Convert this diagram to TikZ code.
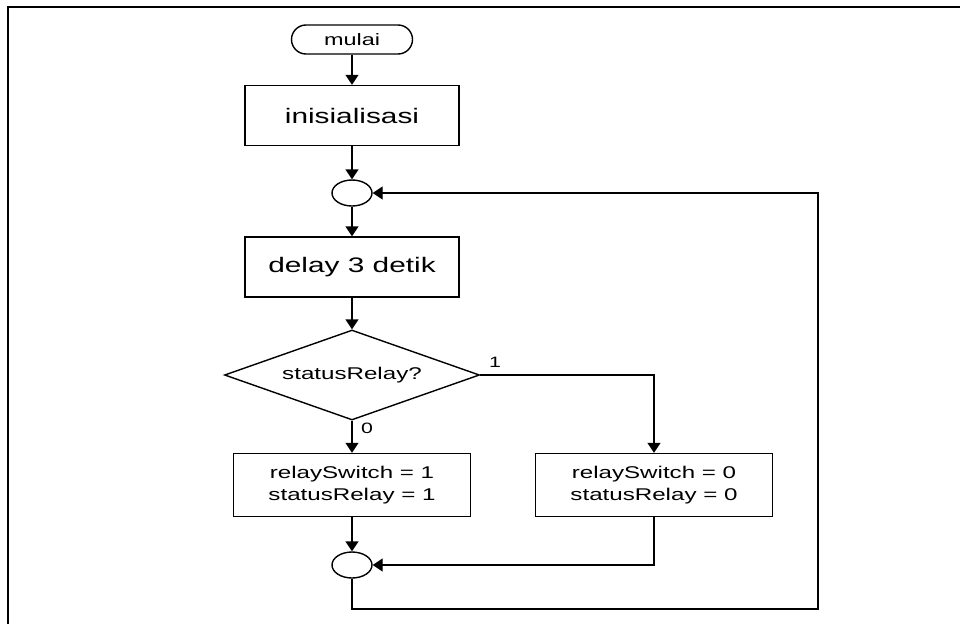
\documentclass[tikz,border=0pt]{standalone}
\usepackage{fontspec}
\setmainfont{Liberation Sans}[FakeStretch=1.42]
\usetikzlibrary{shapes.geometric, arrows.meta}

\begin{document}
\begin{tikzpicture}[x=1pt, y=-1pt, line width=1.4pt,
  term/.style={draw, rectangle, rounded corners=14.5pt, inner sep=0pt, minimum width=121pt, minimum height=29pt, font=\fontsize{16.5}{20}\selectfont},
  box/.style={draw, rectangle, inner sep=0pt, minimum width=214pt, minimum height=60pt, font=\fontsize{21}{25}\selectfont},
  setbox/.style={draw, rectangle, align=center, inner sep=0pt, minimum width=237pt, minimum height=63pt, font=\fontsize{17}{22}\selectfont},
  joint/.style={draw, ellipse, inner sep=0pt, minimum width=40pt, minimum height=26pt},
  cond/.style={draw, diamond, aspect=2.8, inner sep=0pt, minimum width=255pt, minimum height=90pt, font=\fontsize{17}{20}\selectfont},
  lbl/.style={inner sep=0pt, font=\fontsize{15}{18}\selectfont},
  flow/.style={-{Triangle[length=10pt,width=13pt]}}]
\useasboundingbox (0,0) rectangle (960,624);
\draw[line width=2pt] (960,7) -- (8,7) -- (8,624);

\node[term] (S) at (352,39.5) {mulai};
\node[box] (I) at (352,115.5) {inisialisasi};
\node[joint] (J1) at (352,193) {};
\node[box] (D) at (352,267) {delay 3 detik};
\node[cond] (C) at (352,375) {statusRelay?};
\node[setbox] (T) at (352,485) {relaySwitch = 1\\statusRelay = 1};
\node[setbox] (F) at (654,485) {relaySwitch = 0\\statusRelay = 0};
\node[joint] (J2) at (352,565) {};
\coordinate (B) at (818,609);
\node[lbl] (L1) at (495,362) {1};
\node[lbl] (L0) at (367,428) {0};

\draw[flow] (S) -- (I);
\draw[flow] (I) -- (J1);
\draw[flow] (J1) -- (D);
\draw[flow] (D) -- (C);
\draw[flow] (C) -- (T);
\draw[flow] (C.east) -| (F);
\draw[flow] (T) -- (J2);
\draw[flow] (F) |- (J2);
\draw[flow] (J2) |- (B) |- (J1);
\end{tikzpicture}
\end{document}
